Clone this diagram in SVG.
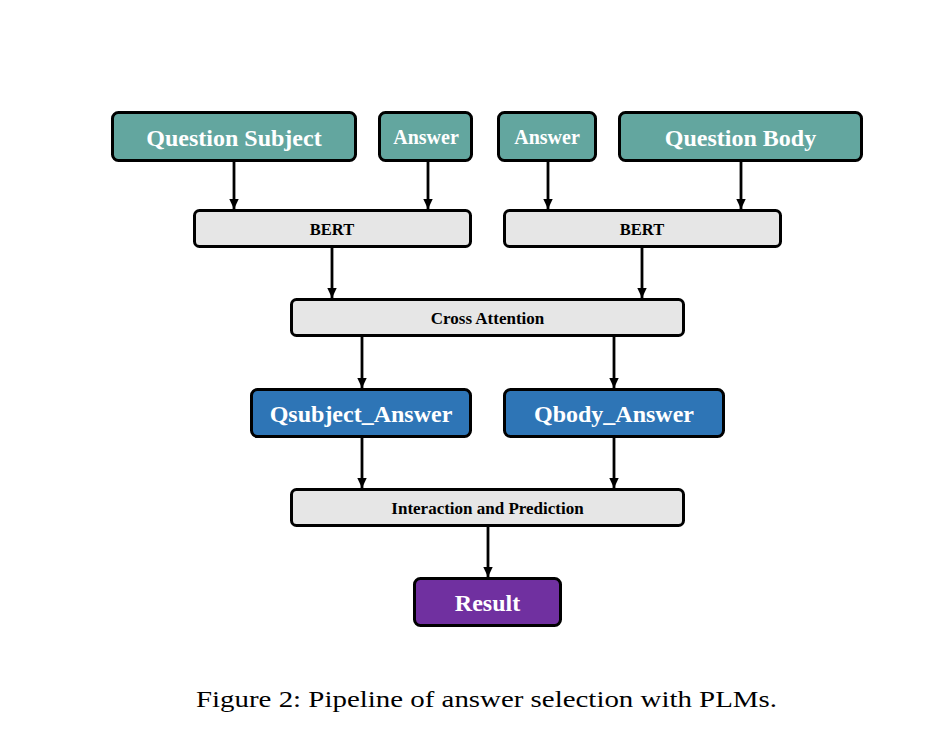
<svg xmlns="http://www.w3.org/2000/svg" width="942" height="742" viewBox="0 0 942 742">
<style>
.box{stroke:#000;stroke-width:3}
.teal{fill:#63a69f}
.blue{fill:#2e75b6}
.purple{fill:#7030a0}
.gray{fill:#e6e6e6}
.t{font-family:"Liberation Serif","Times New Roman",serif;font-weight:bold;text-anchor:middle}
.w{fill:#fff}
.k{fill:#000}
.conn{stroke:#000;stroke-width:2.8;fill:none}
.cap{font-family:"Liberation Serif","Times New Roman",serif;font-size:23px;fill:#000;text-anchor:middle}
</style>
<defs>
<marker id="ah" markerUnits="userSpaceOnUse" markerWidth="12" markerHeight="12" viewBox="0 0 12 12" refX="10" refY="6" orient="auto">
<path d="M0,1.3 L10,6 L0,10.7 Z" fill="#000"/>
</marker>
</defs>
<rect width="942" height="742" fill="#fff"/>
<g id="connectors">
<line class="conn" x1="234" y1="162" x2="234" y2="209" marker-end="url(#ah)"/>
<line class="conn" x1="428" y1="162" x2="428" y2="209" marker-end="url(#ah)"/>
<line class="conn" x1="548" y1="162" x2="548" y2="209" marker-end="url(#ah)"/>
<line class="conn" x1="741" y1="162" x2="741" y2="209" marker-end="url(#ah)"/>
<line class="conn" x1="332" y1="248" x2="332" y2="298" marker-end="url(#ah)"/>
<line class="conn" x1="642" y1="248" x2="642" y2="298" marker-end="url(#ah)"/>
<line class="conn" x1="362" y1="337" x2="362" y2="388" marker-end="url(#ah)"/>
<line class="conn" x1="614" y1="337" x2="614" y2="388" marker-end="url(#ah)"/>
<line class="conn" x1="362" y1="438" x2="362" y2="488" marker-end="url(#ah)"/>
<line class="conn" x1="614" y1="438" x2="614" y2="488" marker-end="url(#ah)"/>
<line class="conn" x1="488" y1="527" x2="488" y2="577" marker-end="url(#ah)"/>
</g>
<g id="question_subject">
<rect class="box teal" x="112.5" y="112.5" width="243" height="48" rx="6"/>
<text class="t w" x="234" y="145.5" font-size="24">Question Subject</text>
</g>
<g id="answer_left">
<rect class="box teal" x="379.5" y="112.5" width="92" height="48" rx="6"/>
<text class="t w" x="426" y="144" font-size="20">Answer</text>
</g>
<g id="answer_right">
<rect class="box teal" x="498.5" y="112.5" width="97" height="48" rx="6"/>
<text class="t w" x="547" y="144" font-size="20">Answer</text>
</g>
<g id="question_body">
<rect class="box teal" x="619.5" y="112.5" width="242" height="48" rx="6"/>
<text class="t w" x="740.5" y="145.5" font-size="24">Question Body</text>
</g>
<g id="bert_left">
<rect class="box gray" x="194.5" y="210.5" width="276" height="36" rx="5"/>
<text class="t k" x="332" y="235" font-size="16.5">BERT</text>
</g>
<g id="bert_right">
<rect class="box gray" x="504.5" y="210.5" width="276" height="36" rx="5"/>
<text class="t k" x="642" y="235" font-size="16.5">BERT</text>
</g>
<g id="cross_attention">
<rect class="box gray" x="291.5" y="299.5" width="392" height="36" rx="5"/>
<text class="t k" x="487.5" y="324" font-size="17">Cross Attention</text>
</g>
<g id="qsubject_answer">
<rect class="box blue" x="251.5" y="389.5" width="219" height="47" rx="6"/>
<text class="t w" x="361" y="422" font-size="24">Qsubject_Answer</text>
</g>
<g id="qbody_answer">
<rect class="box blue" x="504.5" y="389.5" width="219" height="47" rx="6"/>
<text class="t w" x="614" y="422" font-size="24">Qbody_Answer</text>
</g>
<g id="interaction_prediction">
<rect class="box gray" x="291.5" y="489.5" width="392" height="36" rx="5"/>
<text class="t k" x="487.5" y="514" font-size="17">Interaction and Prediction</text>
</g>
<g id="result">
<rect class="box purple" x="414.5" y="578.5" width="146" height="47" rx="6"/>
<text class="t w" x="487.5" y="611" font-size="24">Result</text>
</g>
<text class="cap" x="486.5" y="707" textLength="581" lengthAdjust="spacingAndGlyphs">Figure 2: Pipeline of answer selection with PLMs.</text>
</svg>
